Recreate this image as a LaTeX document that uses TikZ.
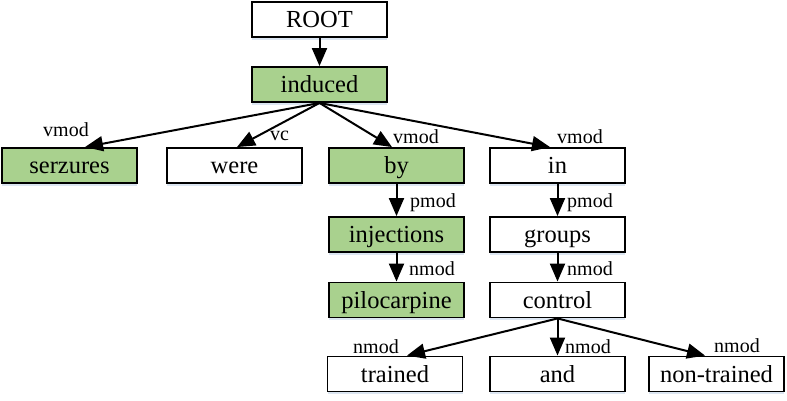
\documentclass[tikz,border=0pt]{standalone}
\usepackage{fontspec}
\setmainfont{Liberation Serif}
\usetikzlibrary{arrows.meta,shadows}
\definecolor{boxgreen}{HTML}{A9D18E}
\definecolor{shadowblue}{HTML}{DCE6F2}
\tikzset{
  wbox/.style={draw=black, line width=1.9pt, fill=white, minimum width=135pt, minimum height=35pt,
    inner sep=0pt, font=\fontsize{24.5}{24.5}\selectfont, text height=16.2pt, text depth=0pt,
    drop shadow={shadow xshift=0pt, shadow yshift=-2.5pt, fill=shadowblue, opacity=1}},
  gbox/.style={wbox, fill=boxgreen},
  lbl/.style={anchor=base west, inner sep=0pt, font=\fontsize{20}{20}\selectfont},
  arr/.style={line width=2pt, -{Triangle[length=18pt,width=15pt]}}
}
\begin{document}
\begin{tikzpicture}[x=1pt,y=-1pt]
\useasboundingbox (0,0) rectangle (787,400);
% nodes
\node[wbox] (root) at (319.5,19.5) {ROOT};
\node[gbox] (induced) at (319.5,84.5) {induced};
\node[gbox] (serzures) at (69.5,165.5) {serzures};
\node[wbox] (were) at (234.5,165.5) {were};
\node[gbox] (by) at (396.5,165.5) {by};
\node[wbox] (in) at (557.5,165.5) {in};
\node[gbox] (injections) at (396.5,234.5) {injections};
\node[wbox] (groups) at (557.5,234.5) {groups};
\node[gbox] (pilocarpine) at (396.5,300) {pilocarpine};
\node[wbox] (control) at (557.5,300) {control};
\node[wbox] (trained) at (395,374) {trained};
\node[wbox] (and) at (557.5,374) {and};
\node[wbox] (nontrained) at (716.5,374) {non-trained};
% edges
\draw[arr] (root.south) -- (induced.north);
\draw[arr] (induced.south) -- ([xshift=15.5pt]serzures.north);
\draw[arr] (induced.south) -- ([xshift=2.5pt]were.north);
\draw[arr] (induced.south) -- ([xshift=-4.5pt]by.north);
\draw[arr] (induced.south) -- ([xshift=-7.5pt]in.north);
\draw[arr] (by.south) -- (injections.north);
\draw[arr] (injections.south) -- (pilocarpine.north);
\draw[arr] (in.south) -- (groups.north);
\draw[arr] (groups.south) -- (control.north);
\draw[arr] (control.south) -- ([xshift=12pt]trained.north);
\draw[arr] (control.south) -- (and.north);
\draw[arr] (control.south) -- ([xshift=-11.5pt]nontrained.north);
% labels
\node[lbl] (l1) at (43,136) {vmod};
\node[lbl] (l2) at (270,140) {vc};
\node[lbl] (l3) at (393,143) {vmod};
\node[lbl] (l4) at (557,143) {vmod};
\node[lbl] (l5) at (410,207) {pmod};
\node[lbl] (l6) at (567,207) {pmod};
\node[lbl] (l7) at (409,275) {nmod};
\node[lbl] (l8) at (567,275) {nmod};
\node[lbl] (l9) at (353,353) {nmod};
\node[lbl] (l10) at (565,353) {nmod};
\node[lbl] (l11) at (714,352) {nmod};
\end{tikzpicture}
\end{document}
